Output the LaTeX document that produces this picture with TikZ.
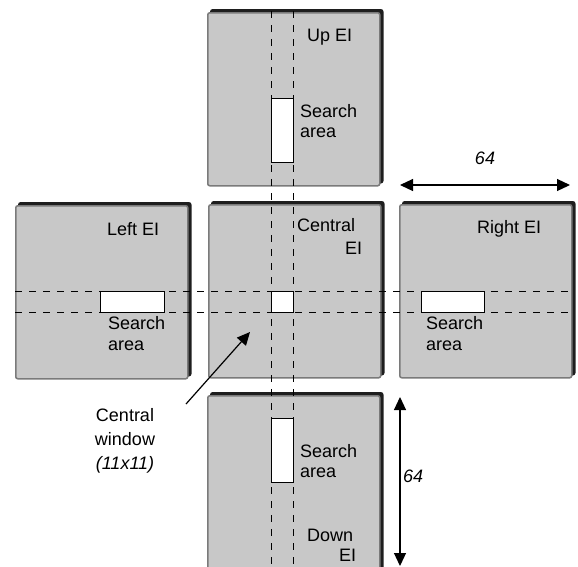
\documentclass[tikz,border=0pt]{standalone}
\usepackage{fontspec}
\setmainfont{Liberation Sans}
\usetikzlibrary{arrows.meta,positioning}
\definecolor{eigrey}{HTML}{C8C8C8}
\definecolor{eiedge}{HTML}{7A7A7A}
\definecolor{eidark}{HTML}{1E1E1E}
\tikzset{
  >={Triangle[length=13pt,width=12pt]},
  font=\fontsize{18}{20}\selectfont,
  eibox/.style={draw=eiedge,line width=1.5pt,rounded corners=2pt,fill=eigrey,
                minimum width=172pt,minimum height=173pt,anchor=north west,inner sep=0pt,
                preaction={draw=eidark,fill=eidark,transform canvas={xshift=3pt,yshift=3pt}}},
  area/.style={draw=black,line width=0.8pt,fill=white,inner sep=0pt,anchor=north west},
  guide/.style={line width=0.9pt,dash pattern=on 7pt off 7pt},
  lbl/.style={align=left,inner sep=0pt,anchor=north west},
  dim/.style={<->,line width=1.2pt},
}
\begin{document}
\begin{tikzpicture}[x=1pt,y=-1pt]
  \useasboundingbox (0,0) rectangle (578,566);
  \clip (0,0) rectangle (578,566);

  % the five EI blocks
  \node[eibox] (up)    at (207,12)  {};
  \node[eibox] (left)  at (15,205)  {};
  \node[eibox] (cen)   at (208,204) {};
  \node[eibox] (right) at (399,204) {};
  \node[eibox,minimum height=190pt] (down) at (207,395) {};

  % search corridors
  \draw[guide] (271,11) -- (271,570);
  \draw[guide] (293,11) -- (293,570);
  \draw[guide] (15,291) -- (573,291);
  \draw[guide] (15,312) -- (573,312);

  % search areas and central window
  \node[area,minimum width=22pt,minimum height=64pt] (upa)    at (271,98)  {};
  \node[area,minimum width=64pt,minimum height=21pt] (lefta)  at (100,291) {};
  \node[area,minimum width=22pt,minimum height=21pt] (cenw)   at (271,291) {};
  \node[area,minimum width=63pt,minimum height=21pt] (righta) at (421,291) {};
  \node[area,minimum width=22pt,minimum height=64pt] (downa)  at (271,418) {};

  % block labels
  \node[lbl] (uplbl)    at (307,29)  {Up EI};
  \node[lbl] (leftlbl)  at (107,222) {Left EI};
  \node[lbl,font=\fontsize{18}{23}\selectfont] (cenlbl) at (297,218) {Central\\\hspace*{48pt}EI};
  \node[lbl] (rightlbl) at (477,220) {Right EI};
  \node[lbl] (downlbl)  at (307,529) {Down\\\hspace*{32pt}EI};

  \node[lbl] (upsa)    at (300,104) {Search\\area};
  \node[lbl,font=\fontsize{18}{21}\selectfont] (leftsa)  at (108,316) {Search\\area};
  \node[lbl,font=\fontsize{18}{21}\selectfont] (rightsa) at (426,316) {Search\\area};
  \node[lbl] (downsa)  at (300,444) {Search\\area};

  % central window pointer
  \node[align=center,inner sep=0pt,anchor=north,font=\fontsize{18}{24}\selectfont] (cwlbl)
    at (125,408) {Central\\window\\\itshape(11x11)};
  \coordinate (cwtail) at (186,404);
  \coordinate (cwtip)  at (250,332);
  \draw[->,line width=1.2pt] (cwtail) -- (cwtip);

  % block size
  \coordinate (hl) at (400,185);
  \coordinate (hr) at (570,185);
  \draw[dim] (hl) -- (hr);
  \node[font=\fontsize{18}{20}\selectfont\itshape] (hsize) at (485,158) {64};
  \coordinate (vt) at (400,397);
  \coordinate (vb) at (400,566);
  \draw[dim] (vt) -- (vb);
  \node[font=\fontsize{18}{20}\selectfont\itshape,anchor=west,inner sep=0pt] (vsize) at (403,476) {64};
\end{tikzpicture}
\end{document}
